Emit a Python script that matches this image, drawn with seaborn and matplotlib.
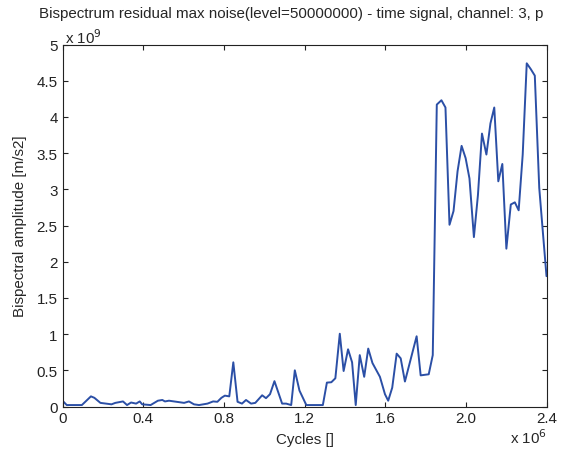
import matplotlib
matplotlib.use("Agg")
import matplotlib.pyplot as plt
import seaborn as sns
import pandas as pd

sns.set_style("ticks")
plt.rcParams['font.family'] = ['Liberation Sans', 'DejaVu Sans']

# cycles in units of 1e6, amplitude in units of 1e9
cycles = [0.0, 0.021, 0.096, 0.141, 0.158, 0.188, 0.243, 0.262, 0.30, 0.32,
          0.34, 0.365, 0.383, 0.395, 0.437, 0.473, 0.495, 0.508, 0.528, 0.603,
          0.627, 0.652, 0.677, 0.719, 0.747, 0.768, 0.788, 0.805, 0.827, 0.847,
          0.868, 0.89, 0.91, 0.935, 0.956, 0.99, 1.009, 1.029, 1.051, 1.089,
          1.109, 1.134, 1.152, 1.175, 1.209, 1.291, 1.311, 1.333, 1.353, 1.375,
          1.394, 1.416, 1.436, 1.454, 1.474, 1.496, 1.516, 1.537, 1.574, 1.599,
          1.615, 1.635, 1.657, 1.677, 1.698, 1.756, 1.776, 1.816, 1.836, 1.856,
          1.879, 1.899, 1.919, 1.939, 1.959, 1.979, 1.999, 2.018, 2.040, 2.060,
          2.080, 2.102, 2.122, 2.141, 2.161, 2.181, 2.201, 2.223, 2.243, 2.262,
          2.282, 2.302, 2.322, 2.342, 2.364, 2.384, 2.40]
amplitude = [0.08, 0.02, 0.02, 0.14, 0.12, 0.05, 0.03, 0.05, 0.07, 0.02,
             0.055, 0.04, 0.07, 0.03, 0.02, 0.08, 0.09, 0.07, 0.08, 0.05,
             0.07, 0.03, 0.02, 0.04, 0.07, 0.065, 0.12, 0.15, 0.14, 0.61,
             0.065, 0.04, 0.09, 0.04, 0.05, 0.155, 0.115, 0.17, 0.35, 0.04,
             0.04, 0.02, 0.50, 0.22, 0.02, 0.02, 0.33, 0.335, 0.39, 1.005,
             0.49, 0.79, 0.61, 0.02, 0.71, 0.41, 0.80, 0.60, 0.41, 0.17,
             0.08, 0.26, 0.73, 0.665, 0.345, 0.97, 0.43, 0.445, 0.71, 4.17,
             4.23, 4.13, 2.51, 2.70, 3.25, 3.60, 3.43, 3.15, 2.34, 2.92,
             3.77, 3.48, 3.91, 4.13, 3.11, 3.35, 2.18, 2.79, 2.82, 2.71,
             3.48, 4.74, 4.66, 4.57, 3.02, 2.34, 1.80]

x_ticks = [0, 0.4, 0.8, 1.2, 1.6, 2.0, 2.4]
x_labels = ["0", "0.4", "0.8", "1.2", "1.6", "2.0", "2.4"]
y_ticks = [0, 0.5, 1, 1.5, 2, 2.5, 3, 3.5, 4, 4.5, 5]
y_labels = ["0", "0.5", "1", "1.5", "2", "2.5", "3", "3.5", "4", "4.5", "5"]

df = pd.DataFrame({"cycles": cycles, "amplitude": amplitude})

FS = 10.9
W, H = 565, 452
L, R, T, B = 62.5, 546.5, 45.5, 407.5

fig = plt.figure(figsize=(W / 100, H / 100), dpi=100)
ax = fig.add_axes([L / W, 1 - B / H, (R - L) / W, (B - T) / H])

sns.lineplot(data=df, x="cycles", y="amplitude", ax=ax, color="#2b4fa6",
             linewidth=1.4, estimator=None, sort=False)

ax.set_xlim(0, 2.4)
ax.set_ylim(0, 5)
ax.set_xticks(x_ticks)
ax.set_xticklabels(x_labels)
ax.set_yticks(y_ticks)
ax.set_yticklabels(y_labels)
ax.tick_params(direction="in", length=3.5, width=0.8, top=True, right=True,
               labelsize=FS, colors="#222222", pad=3.5)
for s in ax.spines.values():
    s.set_visible(True)
    s.set_linewidth(0.8)
    s.set_color("#222222")

ax.set_xlabel("Cycles []", fontsize=FS, va="center")
ax.xaxis.set_label_coords((305 - L) / (R - L), (B - 440) / (B - T))
ax.set_ylabel("Bispectral amplitude [m/s2]", fontsize=FS, va="center")
ax.yaxis.set_label_coords((20 - L) / (R - L), 0.5)

fig.text(39 / W, 1 - 14 / H, "Bispectrum residual max noise(level=50000000) - time signal, channel: 3, p",
         fontsize=FS, ha="left", va="center")
fig.text(65 / W, 1 - 38 / H, r"x 10$^{9}$", fontsize=FS, ha="left", va="center")
fig.text(510 / W, 1 - 438 / H, r"x 10$^{6}$", fontsize=FS, ha="left", va="center")

fig.savefig("out.png", dpi=100)
